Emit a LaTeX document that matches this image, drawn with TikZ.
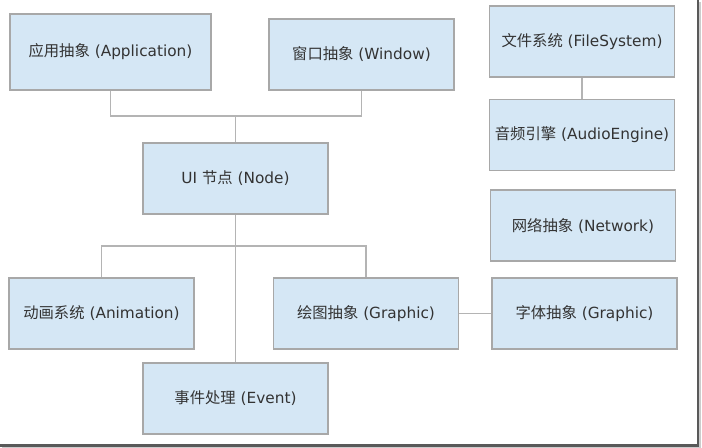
\documentclass[tikz,border=0pt]{standalone}
\usepackage{fontspec}
\setmainfont{DejaVu Sans}
\newfontfamily\cjk{Noto Sans CJK SC}
\usetikzlibrary{positioning,calc}
\definecolor{boxfill}{HTML}{D5E7F5}
\definecolor{boxline}{HTML}{A8A8A8}
\definecolor{linkgray}{HTML}{B4B4B4}
\definecolor{textgray}{HTML}{333333}

\begin{document}
\begin{tikzpicture}[
  x=0.75pt,y=-0.75pt,
  box/.style={draw=boxline,fill=boxfill,line width=0.8pt,
              minimum width=138.75pt,minimum height=53.25pt,
              font=\fontsize{11.5}{13}\selectfont,text=textgray,
              align=center,inner sep=2pt},
  link/.style={draw=linkgray,line width=0.9pt}
]
  \useasboundingbox (0,0) rectangle (702,448);

  % frame shadow
  \draw[gray!70!black,line width=1.6pt] (698,0) -- (698,445.5) -- (0,445.5);
  \draw[gray!40,line width=0.8pt] (700,2) -- (700,447.5) -- (2,447.5);

  % top row
  \node[box,minimum width=150.75pt,minimum height=57pt](app) at (110.5,52)
       {{\cjk 应用抽象} (Application)};
  \node[box](win) at (361.5,54.5){{\cjk 窗口抽象} (Window)};
  \node[box](ui) at (235.5,178.5){UI {\cjk 节点} (Node)};

  % right column
  \node[box](fs) at (582,41.5){{\cjk 文件系统} (FileSystem)};
  \node[box,below=15.75pt of fs](audio){{\cjk 音频引擎} (AudioEngine)};
  \node[box](net) at (583,225.5){{\cjk 网络抽象} (Network)};

  % bottom rows
  \node[box](anim) at (101.5,313.5){{\cjk 动画系统} (Animation)};
  \node[box](gfx) at (366,313.5){{\cjk 绘图抽象} (Graphic)};
  \node[box](font) at (584.5,313.5){{\cjk 字体抽象} (Graphic)};
  \node[box](event) at (235.5,398.5){{\cjk 事件处理} (Event)};

  % connectors
  \coordinate (upjoin) at (ui.north |- 0,116);
  \coordinate (lowjoin) at (ui.south |- 0,246);
  \draw[link](app.south) |- (upjoin) -| (win.south);
  \draw[link](upjoin) -- (ui.north);
  \draw[link](anim.north) |- (lowjoin) -| (gfx.north);
  \draw[link](ui.south) -- (event.north);
  \draw[link](fs.south) -- (audio.north);
  \draw[link](gfx.east) -- (font.west);
\end{tikzpicture}
\end{document}
